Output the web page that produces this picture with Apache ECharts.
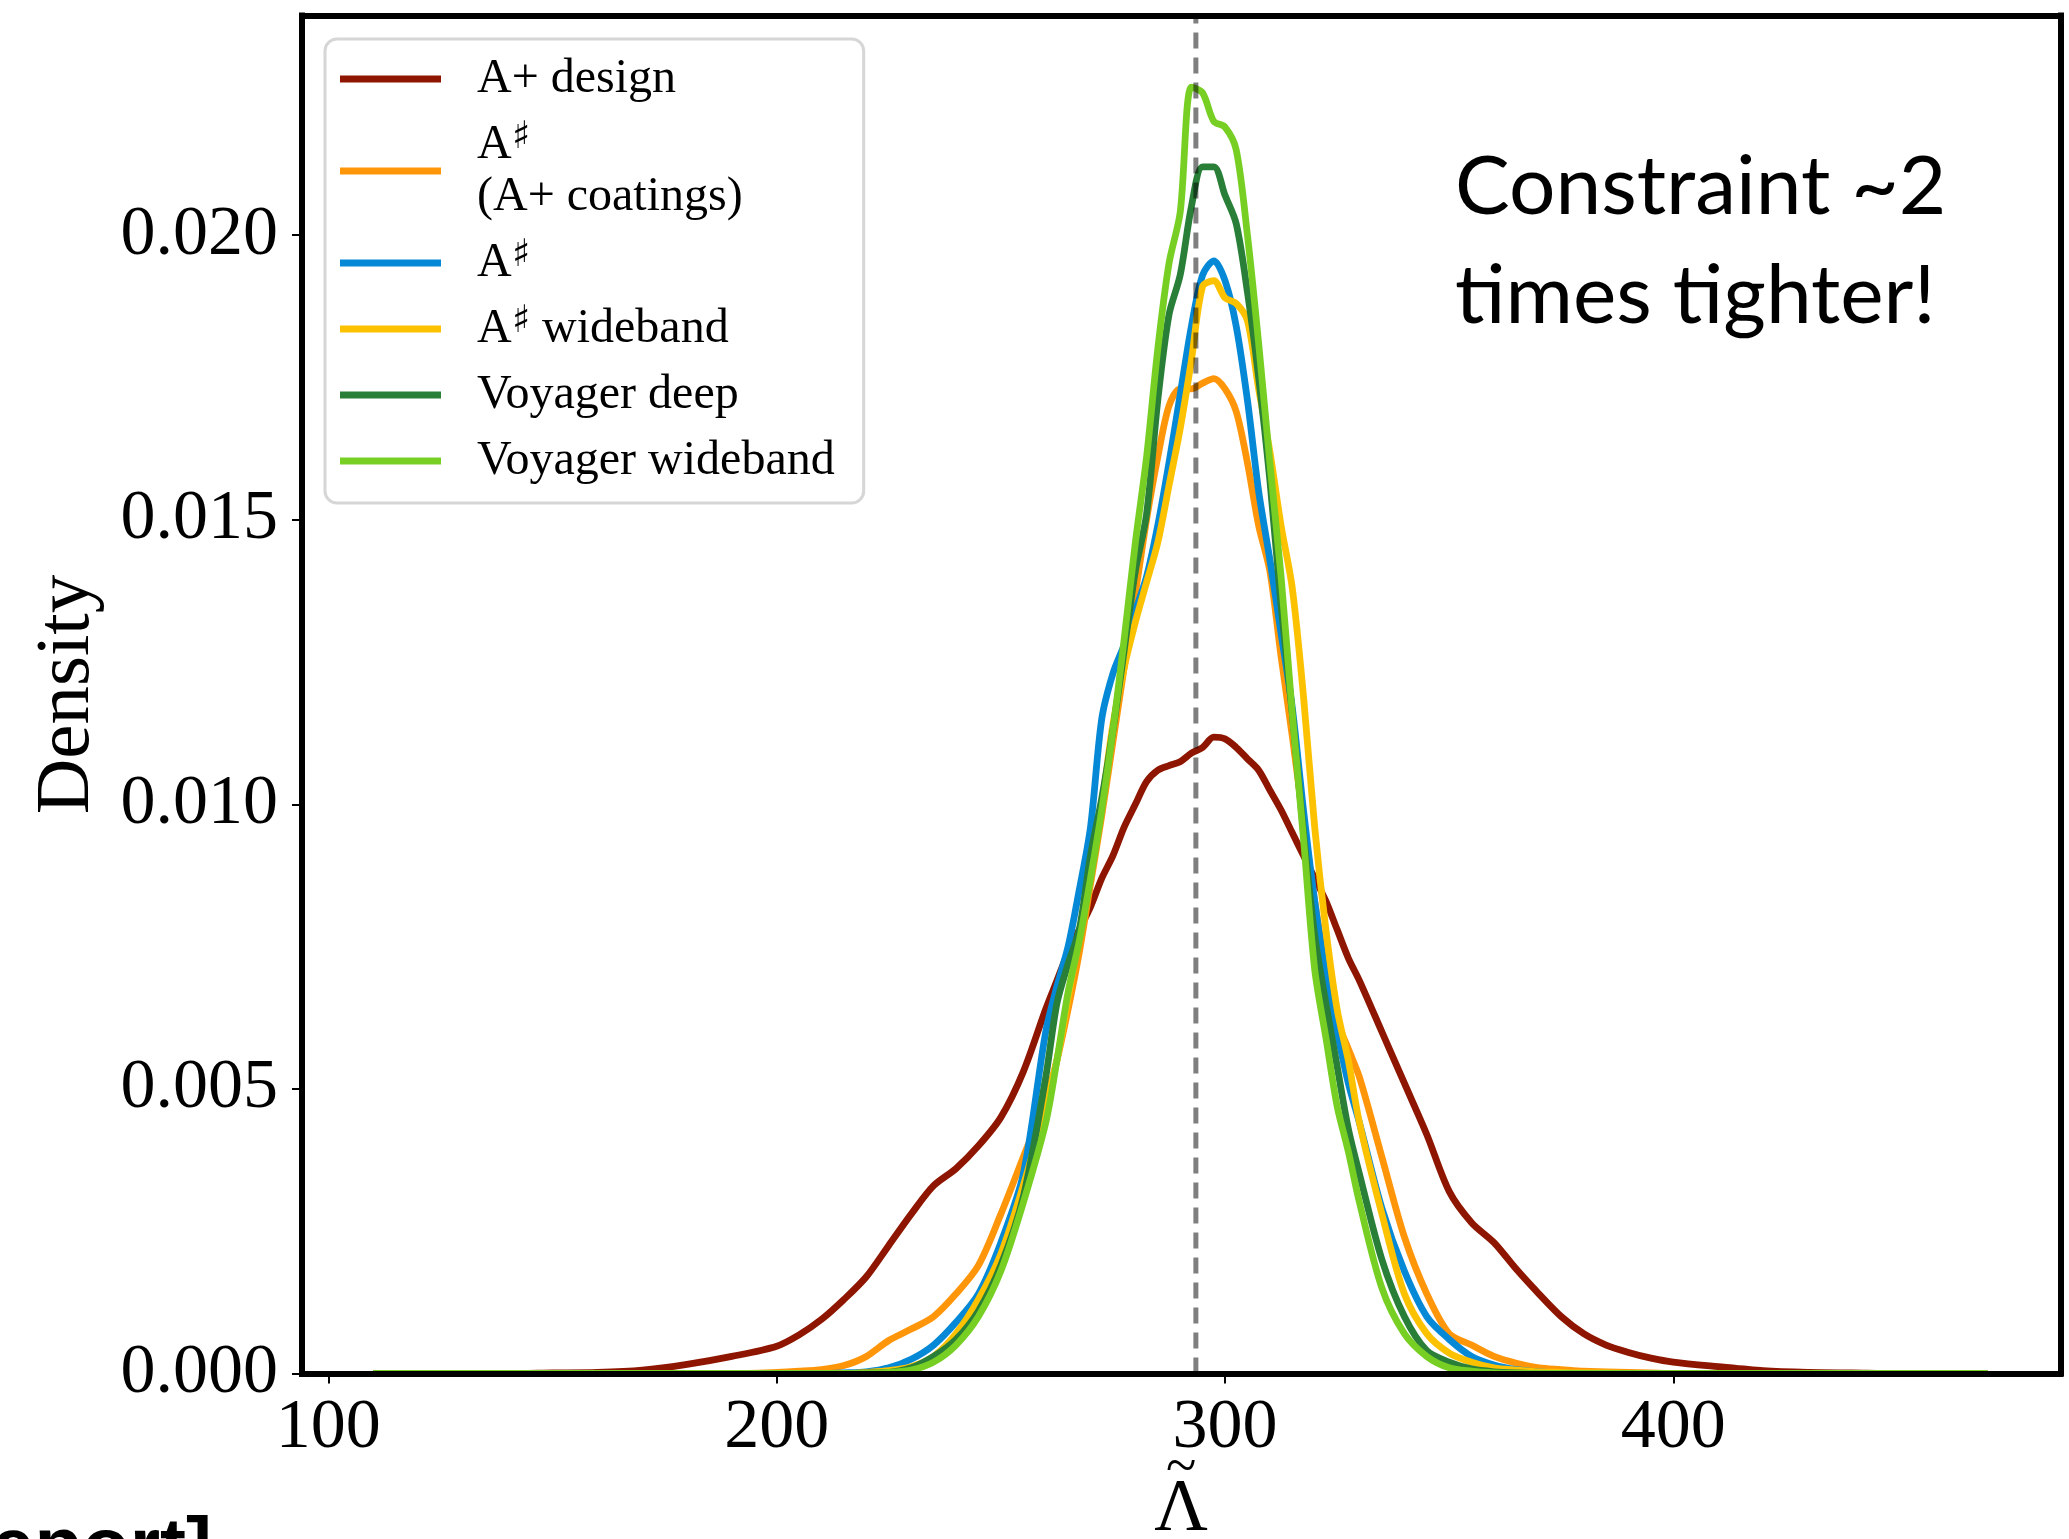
<!DOCTYPE html>
<html>
<head>
<meta charset="utf-8">
<script src="https://cdn.jsdelivr.net/npm/echarts@6.0.0/dist/echarts.min.js"></script>
<style>
html,body{margin:0;padding:0;background:#fff;}
#chart{width:2069px;height:1539px;}
</style>
</head>
<body>
<div id="chart"></div>
<script>
// ---- data ----
const X = [110,120,130,140,150,160,170,180,190,200,
  205,210,215,220,225,230,235,240,245,250,255,260,
  262.5,265,267.5,270,272.5,275,277.5,280,282.5,285,287.5,290,292.5,295,297.5,300,302.5,305,307.5,310,312.5,315,317.5,320,322.5,325,327.5,330,
  335,340,345,350,355,360,365,370,375,380,385,390,395,400,
  410,420,430,440,450,460,470];

const APLUS_DESIGN = [0,0,0,0,0.00001,0.00002,0.00006,0.00016,0.0003,0.00048,
  0.00068,0.00095,0.0013,0.0017,0.00225,0.0028,0.0033,0.0036,0.0040,0.0045,0.0053,0.0064,
  0.0069,0.0074,0.0078,0.0082,0.0087,0.0091,0.0096,0.0100,0.0104,0.0106,0.01068,0.01075,0.0109,0.0110,0.01118,0.01115,0.0110,0.0108,0.0106,0.01025,0.0099,0.0095,0.0091,0.0087,0.0083,0.0078,0.0073,0.0069,
  0.0060,0.0051,0.0042,0.0032,0.00265,0.0023,0.00183,0.0014,0.0010,0.0007,0.0005,0.00037,0.00027,0.0002,
  0.00012,0.00005,0.00002,0.00001,0,0,0];

const ASHARP_COATINGS = [0,0,0,0,0,0,0,0,0,0.00002,
  0.00004,0.00007,0.00014,0.0003,0.00058,0.00078,0.001,0.0014,0.0019,0.0028,0.0038,0.0048,
  0.0055,0.0064,0.0074,0.0086,0.0098,0.0111,0.0124,0.0137,0.0150,0.0161,0.0170,0.0173,0.0173,0.0174,0.01748,0.0173,0.0169,0.0160,0.0149,0.0141,0.0126,0.0112,0.0097,0.0083,0.0071,0.0062,0.0057,0.0052,
  0.0038,0.0024,0.0014,0.0007,0.0005,0.0003,0.00018,0.0001,0.00007,0.00004,0.00003,0.00002,0.00001,0,
  0,0,0,0,0,0,0];

const ASHARP = [0,0,0,0,0,0,0,0,0,0,
  0,0,0.00001,0.00003,0.0001,0.00025,0.0005,0.0009,0.0014,0.0023,0.0035,0.0060,
  0.0068,0.0075,0.0085,0.0096,0.0115,0.0123,0.0128,0.0134,0.0140,0.0149,0.0160,0.0172,0.0184,0.0193,0.01955,0.0192,0.0184,0.0171,0.0155,0.0143,0.0130,0.0117,0.0099,0.0083,0.0070,0.0060,0.0051,0.0044,
  0.0029,0.0018,0.0010,0.0006,0.0003,0.00015,0.00007,0.00003,0.00001,0,0,0,0,0,
  0,0,0,0,0,0,0];

const ASHARP_WIDEBAND = [0,0,0,0,0,0,0,0,0,0,
  0,0,0,0.00002,0.00005,0.00012,0.0003,0.0007,0.0013,0.0021,0.0033,0.0047,
  0.0055,0.0066,0.0077,0.0089,0.0100,0.0114,0.0124,0.0132,0.0139,0.0146,0.0156,0.0166,0.0178,0.0191,0.0192,0.0189,0.0188,0.0185,0.0173,0.0162,0.0149,0.0138,0.0119,0.0096,0.0078,0.0064,0.0055,0.0044,
  0.0028,0.0014,0.0007,0.00036,0.0002,0.0001,0.00006,0.00003,0.00002,0.00001,0.00001,0,0,0,
  0,0,0,0,0,0,0];

const VOYAGER_DEEP = [0,0,0,0,0,0,0,0,0,0,
  0,0,0,0.00001,0.00002,0.0001,0.0003,0.0006,0.0011,0.0019,0.0031,0.0052,
  0.0065,0.0072,0.0078,0.0091,0.0101,0.0113,0.0127,0.0141,0.0151,0.0171,0.0186,0.0193,0.0205,0.0212,0.0212,0.0207,0.0202,0.0190,0.0175,0.0157,0.0135,0.0116,0.0095,0.0077,0.0065,0.0054,0.0043,0.0035,
  0.0020,0.0010,0.0004,0.0002,0.00008,0.00003,0.00001,0,0,0,0,0,0,0,
  0,0,0,0,0,0,0];

const VOYAGER_WIDEBAND = [0,0,0,0,0,0,0,0,0,0,
  0,0,0,0,0.00002,0.00006,0.0002,0.0005,0.001,0.0018,0.003,0.0044,
  0.0055,0.0067,0.0076,0.0087,0.0099,0.0113,0.0129,0.0146,0.0161,0.0180,0.0195,0.0204,0.0226,0.0225,0.0220,0.0219,0.0215,0.0200,0.0181,0.0160,0.0140,0.0116,0.0094,0.0071,0.0059,0.0047,0.0039,0.0030,
  0.0015,0.0007,0.0003,0.0001,0.00004,0.00001,0,0,0,0,0,0,0,0,
  0,0,0,0,0,0,0];

const SERIES_NAMES = ['A+ design','A♯ (A+ coatings)','A♯','A♯ wideband','Voyager deep','Voyager wideband'];
const SERIES_VALUES = [APLUS_DESIGN, ASHARP_COATINGS, ASHARP, ASHARP_WIDEBAND, VOYAGER_DEEP, VOYAGER_WIDEBAND];
const COLORS = ['#8E1600','#FF960A','#0588D6','#FCC200','#2A7F38','#77CF24'];
const LEGEND_LABELS = {
  'A+ design': '{t|A+ design}',
  'A♯ (A+ coatings)': '{t|A}{s|♯}\n{t|(A+ coatings)}',
  'A♯': '{t|A}{s|♯}',
  'A♯ wideband': '{t|A}{s|♯}{t| wideband}',
  'Voyager deep': '{t|Voyager deep}',
  'Voyager wideband': '{t|Voyager wideband}'
};
const X_TICKS = [100,200,300,400];
const Y_TICKS = [0,0.005,0.010,0.015,0.020];
const X_MIN = 94.13, X_MAX = 486.3;
const Y_MIN = 0, Y_MAX = 0.02386;
const TRUE_VALUE = 293.5;

const SERIF = 'Liberation Serif';

const chart = echarts.init(document.getElementById('chart'), null, {renderer:'canvas'});

const series = SERIES_NAMES.map((name, k) => ({
  name: name,
  type: 'line',
  data: X.map((x, i) => [x, SERIES_VALUES[k][i]]),
  showSymbol: false,
  symbol: 'none',
  smooth: 0.3,
  lineStyle: {color: COLORS[k], width: 6.8, join: 'round'},
  itemStyle: {color: COLORS[k]},
  z: 2,
  silent: true
}));

series.push({
  name: 'true value',
  type: 'line',
  data: [[TRUE_VALUE, Y_MIN], [TRUE_VALUE, Y_MAX]],
  symbol: 'none',
  lineStyle: {color: 'rgba(0,0,0,0.5)', width: 5, type: [16, 9]},
  z: 3,
  silent: true
});

const axisLineStyle = {color: '#000', width: 6, cap: 'square'};

const option = {
  backgroundColor: '#fff',
  animation: false,
  grid: {left: 302, top: 15.5, right: 8.7, bottom: 165.5, containLabel: false, outerBoundsMode: 'none', show: false},
  xAxis: [{
    type: 'value', min: X_MIN, max: X_MAX, position: 'bottom', z: 10,
    splitLine: {show: false},
    axisLine: {show: true, onZero: false, lineStyle: axisLineStyle},
    axisTick: {show: true, length: 10, lineStyle: {color: '#000', width: 2}, customValues: X_TICKS},
    axisLabel: {show: true, customValues: X_TICKS, fontFamily: SERIF, fontSize: 70, color: '#000', margin: 20},
    name: '{a|~}\n{b|Λ}', nameLocation: 'middle', nameGap: 92, nameMoveOverlap: false,
    nameTextStyle: {fontFamily: SERIF, color: '#000',
      rich: {
        a: {fontFamily: SERIF, fontSize: 56, lineHeight: 8, color: '#000'},
        b: {fontFamily: SERIF, fontSize: 74, lineHeight: 74, color: '#000'}
      }}
  },{
    type: 'value', min: X_MIN, max: X_MAX, position: 'top', z: 10,
    splitLine: {show: false},
    axisLine: {show: true, onZero: false, lineStyle: axisLineStyle},
    axisTick: {show: false}, axisLabel: {show: false}
  }],
  yAxis: [{
    type: 'value', min: Y_MIN, max: Y_MAX, position: 'left', z: 10,
    splitLine: {show: false},
    axisLine: {show: true, onZero: false, lineStyle: axisLineStyle},
    axisTick: {show: true, length: 10, lineStyle: {color: '#000', width: 2}, customValues: Y_TICKS},
    axisLabel: {show: true, customValues: Y_TICKS, fontFamily: SERIF, fontSize: 70, color: '#000', margin: 24,
      formatter: v => v.toFixed(3)},
    name: 'Density', nameLocation: 'middle', nameGap: 196, nameRotate: 90, nameMoveOverlap: false,
    nameTextStyle: {fontFamily: SERIF, fontSize: 77, color: '#000'}
  },{
    type: 'value', min: Y_MIN, max: Y_MAX, position: 'right', z: 10,
    splitLine: {show: false},
    axisLine: {show: true, onZero: false, lineStyle: axisLineStyle},
    axisTick: {show: false}, axisLabel: {show: false}
  }],
  legend: {
    data: SERIES_NAMES,
    orient: 'vertical',
    left: 325, top: 39,
    padding: [14, 29, 16, 15],
    itemGap: 14,
    itemWidth: 101, itemHeight: 7,
    icon: 'rect',
    selectedMode: false,
    backgroundColor: '#fff',
    borderColor: '#d6d6d6', borderWidth: 3, borderRadius: 12,
    formatter: name => LEGEND_LABELS[name],
    textStyle: {
      fontFamily: SERIF, fontSize: 48, lineHeight: 52, color: '#000',
      padding: [0, 0, 0, 31],
      rich: {
        t: {fontFamily: SERIF, fontSize: 48, lineHeight: 52, color: '#000'},
        s: {fontFamily: 'DejaVu Serif', fontSize: 38, lineHeight: 36, verticalAlign: 'top', color: '#000'}
      }
    },
    z: 20
  },
  graphic: [
    {type: 'text', z: 30, style: {text: 'Constraint ~2', x: 1455, y: 188, fontFamily: 'Lato', fontSize: 82, fill: '#000', align: 'left', verticalAlign: 'middle'}},
    {type: 'text', z: 30, style: {text: 'times tighter!', x: 1455, y: 297, fontFamily: 'Lato', fontSize: 82, fill: '#000', align: 'left', verticalAlign: 'middle'}},
    {type: 'text', z: 30, style: {text: 'report]', x: 212, y: 1550, fontFamily: 'Liberation Sans', fontWeight: 'bold', fontSize: 78, fill: '#000', align: 'right', verticalAlign: 'middle'}}
  ],
  series: series
};

chart.setOption(option);
</script>
</body>
</html>
